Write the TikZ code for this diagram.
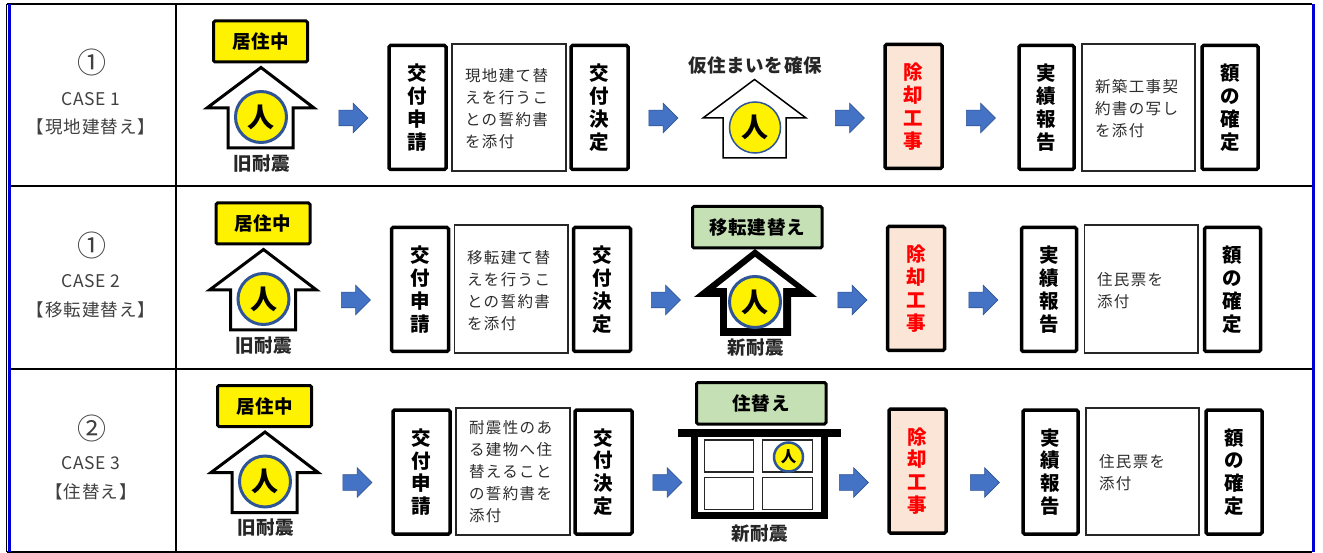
\documentclass[tikz,border=0pt]{standalone}
\usepackage{fontspec}
\setmainfont{Noto Sans CJK JP}
\usetikzlibrary{shapes.arrows}
\definecolor{ringblue}{HTML}{2F5597}
\definecolor{arrowblue}{HTML}{4472C4}
\definecolor{greenfill}{HTML}{C5E0B4}
\definecolor{peach}{HTML}{FBE5D6}
\definecolor{graytext}{HTML}{404040}
\newcommand{\bx}[7][]{%
  \pgfmathsetmacro{\bxw}{#5-#3}\pgfmathsetmacro{\bxh}{#6-#4}%
  \node[#2,minimum width=\bxw pt,minimum height=\bxh pt,#1] (#7) at ({(#3+#5)/2},{(#4+#6)/2})}
\tikzset{
  every node/.style={inner sep=0pt,outer sep=0pt},
  badge/.style={draw=black,line width=3pt,rounded corners=1.5pt,align=center,font=\bfseries\fontsize{18.5}{22}\selectfont\addfontfeature{LetterSpace=4}},
  tallbox/.style={draw=black,line width=3.5pt,rounded corners=1.5pt,fill=white,align=center,font=\bfseries\fontsize{19.5}{22.8}\selectfont,execute at begin node=\rule{0pt}{27pt}},
  demobox/.style={tallbox,fill=peach,text=red},
  notebox/.style={draw=black!85,line width=1.2pt,fill=white},
  notetext/.style={align=left,anchor=west,text=graytext!70!black,font=\fontsize{15.5}{22}\selectfont\addfontfeature{LetterSpace=9}},
  caption/.style={font=\bfseries\fontsize{18.5}{20}\selectfont\addfontfeature{LetterSpace=4},text=black!85},
  person/.style={circle,fill=yellow,draw=ringblue,line width=3pt,minimum size=51pt,font=\bfseries\fontsize{27}{27}\selectfont},
  blockarrow/.style={single arrow,single arrow head extend=7pt,inner ysep=7.5pt,inner xsep=0pt,minimum height=29pt,fill=arrowblue,draw=ringblue,line width=.6pt},
  casetext/.style={text=graytext,font=\fontsize{17.5}{18}\selectfont\addfontfeature{LetterSpace=3}},
  caselabel/.style={text=graytext,font=\fontsize{17.5}{18}\selectfont\addfontfeature{LetterSpace=6}},
  casenum/.style={text=graytext,font=\fontsize{29}{29}\selectfont},
  tableline/.style={draw=black,line width=2pt},
  tableside/.style={draw=blue!85!black,line width=3pt},
  housethin/.style={draw=black,line join=miter,fill=white},
  windowpane/.style={draw=black!85,line width=1.5pt,fill=white},
}
\newcommand{\flowrow}[3]{%
  \begin{scope}[shift={(#2,#3)}]
    \bx[fill=yellow]{badge}{213.5}{21}{307.5}{62}{#1badge} {居住中};
    \draw[housethin,line width=3pt] (261,67.5) -- (314,108) -- (293,108) -- (293,148) -- (228,148) -- (228,108) -- (207,108) -- cycle;
    \node[person] (#1old) at (261,117) {人};
    \node[caption] (#1oldcap) at (261.5,163.5) {旧耐震};
    \node[blockarrow] (#1a) at (349.5,118) {};
    \bx{tallbox}{389}{45.5}{446}{169.5}{#1apply} {交\\付\\申\\請};
    \bx{tallbox}{571}{45.5}{628}{169.5}{#1decide} {交\\付\\決\\定};
    \node[blockarrow] (#1b) at (659.5,118) {};
    \node[blockarrow] (#1c) at (846,118) {};
    \bx{demobox}{885}{44.5}{942}{168.5}{#1demo} {除\\却\\工\\事};
    \node[blockarrow] (#1d) at (977,118) {};
    \bx{tallbox}{1019}{45.5}{1074}{169.5}{#1report} {実\\績\\報\\告};
    \bx{tallbox}{1202}{45.5}{1258}{169.5}{#1final} {額\\の\\確\\定};
  \end{scope}}
\newcommand{\notein}[8]{% name x1 y1 x2 y2 textx texty text
  \bx{notebox}{#2}{#3}{#4}{#5}{#1} {};
  \node[notetext] (#1t) at (#6,#7) {#8};}
\begin{document}
\begin{tikzpicture}[x=1pt,y=-1pt]
\useasboundingbox (0,0) rectangle (1323,553);
\fill[white] (0,0) rectangle (1323,553);
% table
\draw[tableline] (7,4) -- (1312,4);
\draw[tableline] (9,186) -- (1312,186);
\draw[tableline] (9,369) -- (1312,369);
\draw[tableline] (7,551.5) -- (1312,551.5);
\draw[tableline] (176,4) -- (176,551.5);
\draw[tableside] (9.5,4) -- (9.5,552);
\draw[tableside] (1313.5,4) -- (1313.5,552);
\draw[tableline,line width=1.5pt] (6.5,4) -- (6.5,552);
% left column
\node[casenum] (n1) at (92,62) {①};
\node[casetext] (c1) at (91,99) {CASE 1};
\node[caselabel] (l1) at (91,127) {【現地建替え】};
\node[casenum] (n2) at (92,245) {①};
\node[casetext] (c2) at (91,281) {CASE 2};
\node[caselabel] (l2) at (91,310) {【移転建替え】};
\node[casenum] (n3) at (92,428) {②};
\node[casetext] (c3) at (91,463) {CASE 3};
\node[caselabel] (l3) at (91,492) {【住替え】};
% rows
\flowrow{p}{0}{0}
\flowrow{q}{2.5}{182}
\flowrow{r}{4}{364.5}
% notes
\notein{pn1}{452}{44}{566}{171}{465}{109}{現地建て替\\えを行うこ\\との誓約書\\を添付}
\notein{pn2}{1082}{44}{1195}{171}{1095}{109}{新築工事契\\約書の写し\\を添付}
\notein{qn1}{454.5}{225}{568}{353}{467}{291}{移転建て替\\えを行うこ\\との誓約書\\を添付}
\notein{qn2}{1084.5}{225}{1198}{353}{1097}{291}{住民票を\\添付}
\notein{rn1}{456}{408}{570}{535}{469}{472}{耐震性のあ\\る建物へ住\\替えること\\の誓約書を\\添付}
\notein{rn2}{1086}{408}{1199}{535}{1099}{473}{住民票を\\添付}
% row 1 middle
\node[caption] (pm) at (755,65) {仮住まいを確保};
\draw[housethin,line width=1.5pt] (754.5,79.5) -- (806,118) -- (786,118) -- (786,158) -- (723,158) -- (723,118) -- (703,118) -- cycle;
\node[person,line width=1.5pt,minimum size=51pt] (pp) at (755,127.5) {人};
% row 2 middle
\bx[fill=greenfill]{badge}{692.5}{206.5}{822}{248}{qm} {移転建替え};
\fill[black] (755,249) -- (817,297) -- (791,297) -- (791,336) -- (720,336) -- (720,297) -- (694,297) -- cycle;
\fill[white] (755,257) -- (796,288) -- (783,288) -- (783,328) -- (727,328) -- (727,288) -- (716,288) -- cycle;
\node[person] (qp) at (755,302) {人};
\node[caption] (qc) at (755.5,348) {新耐震};
% row 3 middle
\bx[fill=greenfill]{badge}{696.5}{382.5}{826}{424}{rm} {住替え};
\fill[black] (678,429) rectangle (841,437);
\fill[black] (691,437) rectangle (828,519);
\fill[white] (698,437) rectangle (821,512);
\node[windowpane,minimum width=49pt,minimum height=32pt] (w1) at (729,456) {};
\node[windowpane,minimum width=50pt,minimum height=32pt] (w2) at (787.5,456) {};
\node[windowpane,minimum width=49pt,minimum height=32pt] (w3) at (729,493.5) {};
\node[windowpane,minimum width=50pt,minimum height=32pt] (w4) at (787.5,493.5) {};
\node[person,line width=2.5pt,minimum size=29pt,font=\bfseries\fontsize{15.5}{15.5}\selectfont] (rp) at (788.5,457) {人};
\node[caption] (rc) at (760,534) {新耐震};
\end{tikzpicture}
\end{document}
